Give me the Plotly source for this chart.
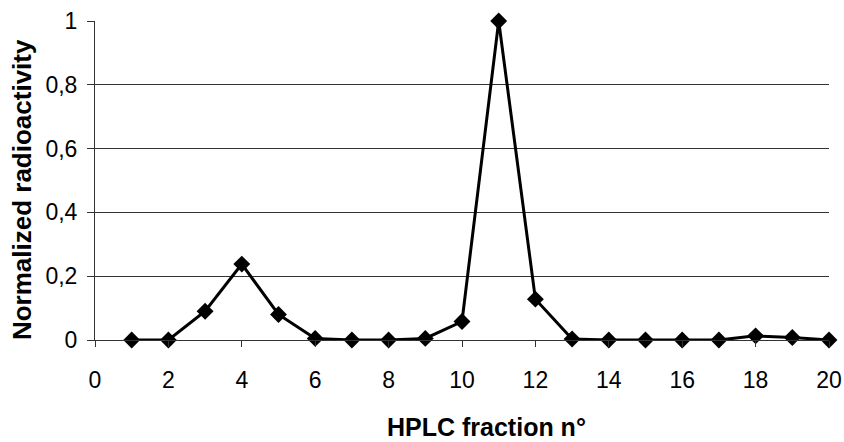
import plotly.graph_objects as go

fractions = [1, 2, 3, 4, 5, 6, 7, 8, 9, 10, 11, 12, 13, 14, 15, 16, 17, 18, 19, 20]
radioactivity = [0.0, 0.0, 0.09, 0.238, 0.08, 0.005, 0.0, 0.0, 0.005, 0.058, 1.0, 0.128,
                 0.003, 0.0, 0.0, 0.0, 0.0, 0.013, 0.008, 0.0]
x_ticks = [0, 2, 4, 6, 8, 10, 12, 14, 16, 18, 20]
y_ticks = [0, 0.2, 0.4, 0.6, 0.8, 1]
x_title = "<b>HPLC fraction n°</b>"
y_title = "<b>Normalized radioactivity</b>"

fig = go.Figure()
fig.add_trace(go.Scatter(
    x=fractions, y=radioactivity, mode="lines+markers",
    line=dict(color="black", width=3),
    marker=dict(symbol="diamond", size=13, color="black"),
    cliponaxis=False,
    showlegend=False,
    hoverinfo="skip",
))

font = "Liberation Sans, Arial, sans-serif"
fig.update_layout(
    width=844, height=442,
    margin=dict(l=95, r=15, t=21, b=102),
    paper_bgcolor="white", plot_bgcolor="white",
    separators=",.",
    font=dict(family=font, size=23, color="black"),
    xaxis=dict(
        range=[0, 20], tickvals=x_ticks, showgrid=False, zeroline=False,
        showline=True, linecolor="#333", linewidth=1, automargin=False,
        ticks="outside", ticklen=6, tickcolor="#333", ticklabelstandoff=13,
        tickfont=dict(size=23),
    ),
    yaxis=dict(
        range=[0, 1], tickvals=y_ticks, showgrid=True, gridcolor="#333", gridwidth=1,
        zeroline=False, showline=True, linecolor="#333", linewidth=1, automargin=False,
        ticks="outside", ticklen=7, tickcolor="#333", ticklabelstandoff=5,
        tickfont=dict(size=23),
    ),
    annotations=[
        dict(text=x_title, xref="paper", yref="paper", x=0.534, y=-0.273,
             xanchor="center", yanchor="middle", showarrow=False, font=dict(size=25)),
        dict(text=y_title, xref="paper", yref="paper", x=-0.0995, y=0.473,
             xanchor="center", yanchor="middle", showarrow=False, textangle=-90,
             font=dict(size=26)),
    ],
)

fig.write_html("out.html", config={"displayModeBar": False},
               post_script="document.body.style.margin='0';")
